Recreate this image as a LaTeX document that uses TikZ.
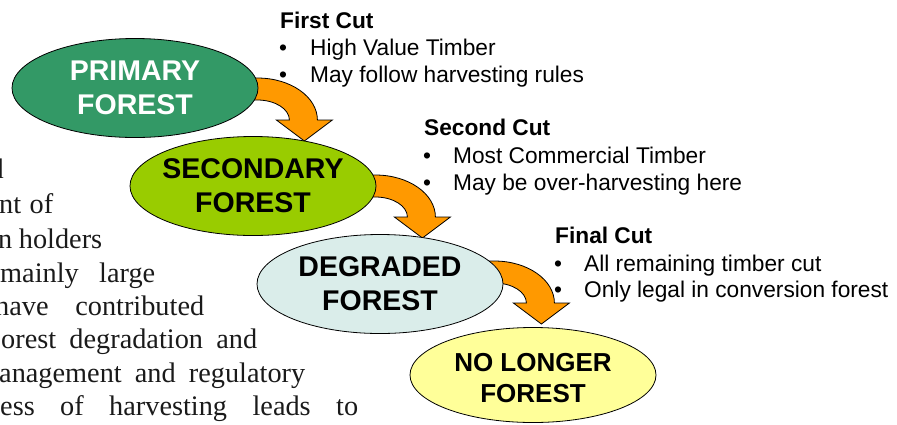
\documentclass[tikz,border=0pt]{standalone}
\usepackage{fontspec}
\setmainfont{Liberation Serif}
\newfontfamily\arialf{Liberation Sans}
\usetikzlibrary{shapes.geometric,calc,backgrounds}
\definecolor{primfill}{HTML}{339966}
\definecolor{secfill}{HTML}{99CC00}
\definecolor{degfill}{HTML}{DAEDEA}
\definecolor{nlfill}{HTML}{FFFF99}
\definecolor{arrfill}{HTML}{FF9900}
\definecolor{bodytext}{HTML}{1A1A1A}
\tikzset{
  forestell/.style={ellipse, draw=black, line width=0.8bp, minimum width=246bp, minimum height=99bp, inner sep=0pt},
  elltext/.style={font=\arialf\bfseries\fontsize{28.5bp}{34bp}\selectfont, align=center, inner sep=0pt},
  elltextsmall/.style={font=\arialf\bfseries\fontsize{26bp}{31bp}\selectfont, align=center, inner sep=0pt},
  cuthead/.style={font=\arialf\bfseries\fontsize{22.7bp}{27bp}\selectfont, anchor=base west, inner sep=0pt},
  cutitem/.style={font=\arialf\fontsize{22.7bp}{27bp}\selectfont, anchor=base west, inner sep=0pt},
  bodyline/.style={font=\fontsize{28.3bp}{33bp}\selectfont, text=bodytext, anchor=base west, inner sep=0pt},
  arrowsty/.style={fill=arrfill, draw=black, line width=0.8bp, line join=miter}
}
\newcommand\cutarrow[1]{%
  \draw[arrowsty] ($(#1)+(-10,42)$) -- ++(10,0)
    arc[start angle=90, end angle=0, x radius=60, y radius=42]
    -- ++(15,0) -- ++(-28,-21) -- ++(-28,21) -- ++(13,0)
    arc[start angle=0, end angle=90, x radius=32, y radius=20]
    -- ++(-10,0) -- cycle;}
\begin{document}
\begin{tikzpicture}[x=1bp, y=1bp]
\useasboundingbox (0,-424) rectangle (897,0);
\clip (0,-424) rectangle (897,0);

% body text fragments on the left
\node[bodyline] (b1) at (-10.5,-178) {d};
\node[bodyline] (b2) at (-1,-213) {\makebox[54bp][s]{nt of}};
\node[bodyline] (b3) at (-2,-248) {\makebox[104bp][s]{n holders}};
\node[bodyline] (b4) at (0,-282) {\makebox[155bp][s]{mainly large}};
\node[bodyline] (b5) at (-5,-315) {\makebox[209bp][s]{have contributed}};
\node[bodyline] (b6) at (1,-348) {\makebox[256bp][s]{orest degradation and}};
\node[bodyline] (b7) at (-1,-382) {\makebox[306bp][s]{anagement and regulatory}};
\node[bodyline] (b8) at (0,-415) {\makebox[358bp][s]{ess of harvesting leads to}};

% ellipses
\node[forestell, fill=primfill] (p) at (135,-88) {};
\node[forestell, fill=secfill] (s) at (253,-186) {};
\node[forestell, fill=degfill] (dg) at (380,-284) {};
\node[forestell, fill=nlfill, minimum height=95bp] (nl) at (533,-375) {};

\node[elltext, text=white] (pt) at (p) {PRIMARY\\FOREST};
\node[elltext] (st) at (s) {SECONDARY\\FOREST};
\node[elltext] (dt) at (dg) {DEGRADED\\FOREST};
\node[elltextsmall] (nt) at ($(nl)+(0,-3)$) {NO LONGER\\FOREST};

% curved block arrows behind the ellipses
\coordinate (a1) at ($(p.east)+(-1,-32)$);
\coordinate (a2) at ($(s.east)+(-1,-31)$);
\coordinate (a3) at ($(dg.east)+(-9,-19)$);
\begin{pgfonlayer}{background}
\cutarrow{a1}
\cutarrow{a2}
\cutarrow{a3}
\end{pgfonlayer}

% cut descriptions
\node[cuthead] (h1) at (280,-28) {First Cut};
\node[cutitem] (u11) at (279,-55) {•};
\node[cutitem] (i11) at (310,-55) {High Value Timber};
\node[cutitem] (u12) at (279,-82) {•};
\node[cutitem] (i12) at (310,-82) {May follow harvesting rules};

\node[cuthead] (h2) at (424,-135) {Second Cut};
\node[cutitem] (u21) at (423,-163) {•};
\node[cutitem] (i21) at (453,-163) {Most Commercial Timber};
\node[cutitem] (u22) at (423,-190) {•};
\node[cutitem] (i22) at (453,-190) {May be over-harvesting here};

\node[cuthead] (h3) at (555,-243) {Final Cut};
\node[cutitem] (u31) at (554,-271) {•};
\node[cutitem] (i31) at (584,-271) {All remaining timber cut};
\node[cutitem] (u32) at (554,-297) {•};
\node[cutitem] (i32) at (584,-297) {Only legal in conversion forest};
\end{tikzpicture}
\end{document}
